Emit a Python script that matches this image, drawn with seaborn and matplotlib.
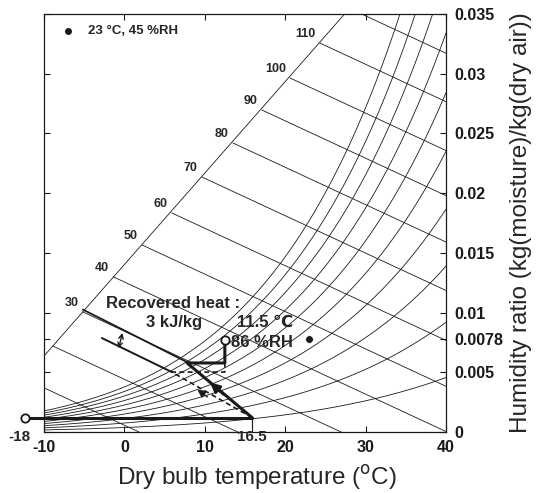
import numpy as np
import pandas as pd
import seaborn as sns
import matplotlib.pyplot as plt

# relative humidity curves (fraction)
rh_levels = [0.1, 0.2, 0.3, 0.4, 0.5, 0.6, 0.7, 0.8, 0.9, 1.0]
t_grid = np.linspace(-10, 40, 201)

# enthalpy lines: start points (T degC, W kg/kg)
enth_values = [10, 20, 30, 40, 50, 60, 70, 80, 90, 100, 110, 120]
enth_t0 = [-10.0, -8.9, -5.15, -1.4, 2.2, 5.9, 9.65, 13.5, 17.1, 20.6, 24.3, 29.5]
enth_w0 = [0.0037, 0.0072, 0.01005, 0.0130, 0.01566, 0.01834, 0.02135, 0.0242, 0.02696, 0.02964, 0.03257, 0.035]
enth_labels = [30, 40, 50, 60, 70, 80, 90, 100, 110]
enth_slope = -0.000313
# line on which the enthalpy scale starts
scale_t = [-10.0, 27.4]
scale_w = [0.00636, 0.035]

# process
solid_t = [-12.4, 15.9]
solid_w = [0.0012, 0.0012]
heat_t = [15.9, 7.8, 12.5, 12.5]
heat_w = [0.0012, 0.00578, 0.00578, 0.0077]
dash_t = [15.9, 5.9, 12.5, 12.5]
dash_w = [0.0012, 0.00502, 0.00502, 0.00578]
upper_t = [-5.15, 7.8]
upper_w = [0.01025, 0.00585]
lower_t = [-2.8, 5.9]
lower_w = [0.00787, 0.00502]
room_t = [23.0]
room_w = [0.0078]

x_ticks = [-10, 0, 10, 20, 30, 40]
y_ticks = [0, 0.005, 0.0078, 0.01, 0.015, 0.02, 0.025, 0.03, 0.035]
y_tick_labels = ["0", "0.005", "0.0078", "0.01", "0.015", "0.02", "0.025", "0.03", "0.035"]

sns.set_theme(style="ticks")
plt.rcParams["font.family"] = ["Liberation Sans", "DejaVu Sans"]
plt.rcParams["axes.linewidth"] = 0.9

fig = plt.figure(figsize=(5.36, 4.93), dpi=100)
ax = fig.add_axes([0.082, 0.1237, 0.75, 0.848])


def w_sat(t, phi):
    pws = 0.61094 * np.exp(17.625 * t / (t + 243.04))
    pw = phi * pws
    return 0.622 * pw / (101.325 - pw)


rows = []
for phi in rh_levels:
    for t in t_grid:
        rows.append({"T": t, "W": w_sat(t, phi), "rh": phi})
df = pd.DataFrame(rows)
sns.lineplot(data=df, x="T", y="W", units="rh", estimator=None, color="#1a1a1a",
             lw=0.6, ax=ax, legend=False, sort=False)

# enthalpy lines
for h, t0, w0 in zip(enth_values, enth_t0, enth_w0):
    ax.plot([t0, 40], [w0, w0 + enth_slope * (40 - t0)], color="#1a1a1a", lw=0.6)
    if h in enth_labels:
        ax.annotate(str(h), (t0, w0), xytext=(-3, 2), textcoords="offset points",
                    ha="right", va="bottom", fontsize=9, fontweight="bold")
ax.plot(scale_t, scale_w, color="#1a1a1a", lw=0.6)

# process lines
ax.plot(solid_t, solid_w, color="k", lw=2.2, clip_on=False)
ax.plot(solid_t[:1], solid_w[:1], "o", mfc="white", mec="k", mew=1.3, ms=6, clip_on=False, zorder=5)
ax.plot(heat_t, heat_w, color="k", lw=2.2)
ax.plot(heat_t[-1:], heat_w[-1:], "o", mfc="white", mec="k", mew=1.3, ms=6, zorder=5)
ax.plot(dash_t, dash_w, color="k", lw=1.2, ls=(0, (3, 2)))
ax.plot(upper_t, upper_w, color="k", lw=1.3)
ax.plot(lower_t, lower_w, color="k", lw=1.4)
ax.plot([solid_t[1], solid_t[1]], [solid_w[1], 0], color="k", lw=0.8)

ax.annotate("", xy=(10.4, 0.0043), xytext=(12.6, 0.0030),
            arrowprops=dict(arrowstyle="-|>", color="k", lw=2, mutation_scale=14))
ax.annotate("", xy=(8.8, 0.0037), xytext=(10.6, 0.0028),
            arrowprops=dict(arrowstyle="-|>", color="k", lw=1, mutation_scale=12))
ax.annotate("", xy=(-0.25, 0.0083), xytext=(-0.7, 0.0070),
            arrowprops=dict(arrowstyle="<->", color="k", lw=1.0, mutation_scale=8,
                            shrinkA=0, shrinkB=0))

sns.scatterplot(x=room_t, y=room_w, color="k", s=30, ax=ax, zorder=5)

# texts
ax.plot([-7.0], [0.0336], "o", color="k", ms=4)
ax.text(-4.5, 0.0336, "23 °C, 45 %RH", fontsize=9.5, fontweight="bold", va="center")
ax.text(-2.3, 0.0108, "Recovered heat :", fontsize=12, fontweight="bold", va="center")
ax.text(2.7, 0.0092, "3 kJ/kg", fontsize=12, fontweight="bold", va="center")
ax.text(14.0, 0.0092, "11.5 ℃", fontsize=12, fontweight="bold", va="center")
ax.text(13.3, 0.0075, "86 %RH", fontsize=12, fontweight="bold", va="center")
ax.text(-13.1, -0.0004, "-18", fontsize=11, fontweight="bold", ha="center", va="center")
ax.text(15.8, -0.0004, "16.5", fontsize=11, fontweight="bold", ha="center", va="center")

ax.set_xlim(-10, 40)
ax.set_ylim(0, 0.035)
ax.set_xticks(x_ticks)
ax.set_xticklabels([str(v) for v in x_ticks], fontweight="bold", fontsize=11.5)
ax.set_yticks(y_ticks)
ax.set_yticklabels(y_tick_labels, fontweight="bold", fontsize=11.5)
ax.tick_params(axis="both", which="both", direction="in", top=True, bottom=True,
               left=True, right=True, labelleft=False, labelright=True, length=4,
               width=0.8, pad=6, colors="k")
ax.yaxis.set_label_position("right")
ax.set_xlabel("Dry bulb temperature ($^{\\mathrm{o}}$C)", fontsize=17.5)
ax.xaxis.set_label_coords(0.53, -0.075)
ax.set_ylabel("Humidity ratio (kg(moisture)/kg(dry air))", fontsize=17.5, labelpad=5)
for s in ax.spines.values():
    s.set_color("k")

fig.savefig("out.png", dpi=100)
